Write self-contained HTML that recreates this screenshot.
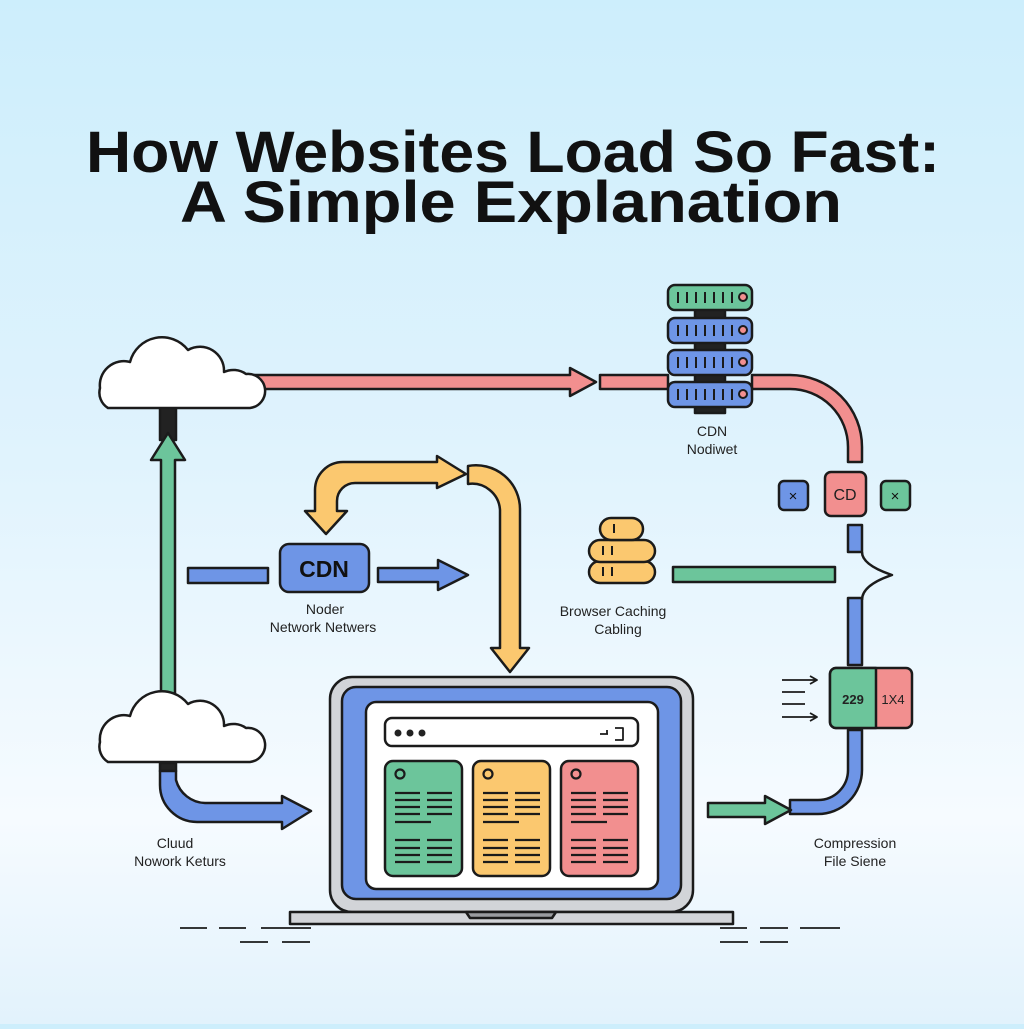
<!DOCTYPE html>
<html><head><meta charset="utf-8"><style>
html,body{margin:0;padding:0}
body{width:1024px;height:1024px;overflow:hidden;background:linear-gradient(#cdeefc 0%,#e0f3fd 45%,#f6fbff 80%,#e2f2fc 100%);font-family:"Liberation Sans",sans-serif}
</style></head><body>
<svg width="1024" height="1024" viewBox="0 0 1024 1024" xmlns="http://www.w3.org/2000/svg" font-family="Liberation Sans, sans-serif">
<g stroke="#1b1b1b" stroke-width="2.5" stroke-linejoin="round">
<text x="86" y="172" font-size="58" font-weight="bold" fill="#111" stroke="none" textLength="854" lengthAdjust="spacingAndGlyphs">How Websites Load So Fast:</text>
<text x="180" y="222" font-size="58" font-weight="bold" fill="#111" stroke="none" textLength="662" lengthAdjust="spacingAndGlyphs">A Simple Explanation</text>

<!-- red pipe -->
<path d="M250 375 H570 V368 L596 382 L570 396 V389 H250 Z" fill="#f28f8f"/>
<path d="M600 375 H668 V389 H600 Z" fill="#f28f8f"/>
<path d="M752 375 H790 A72 72 0 0 1 862 447 V462 H848 V447 A58 58 0 0 0 790 389 H752 Z" fill="#f28f8f"/>

<!-- server -->
<rect x="695" y="295" width="30" height="118" fill="#222"/>
<rect x="668" y="285" width="84" height="25" rx="7" fill="#6cc59b"/>
<rect x="668" y="318" width="84" height="25" rx="7" fill="#6e95e6"/>
<rect x="668" y="350" width="84" height="25" rx="7" fill="#6e95e6"/>
<rect x="668" y="382" width="84" height="25" rx="7" fill="#6e95e6"/>
<g stroke-width="2">
<path d="M678 292v11M687 292v11M696 292v11M705 292v11M714 292v11M723 292v11M732 292v11M678 325v11M687 325v11M696 325v11M705 325v11M714 325v11M723 325v11M732 325v11M678 357v11M687 357v11M696 357v11M705 357v11M714 357v11M723 357v11M732 357v11M678 389v11M687 389v11M696 389v11M705 389v11M714 389v11M723 389v11M732 389v11"/>
<circle cx="743" cy="297" r="4" fill="#f28f8f"/><circle cx="743" cy="330" r="4" fill="#f28f8f"/><circle cx="743" cy="362" r="4" fill="#f28f8f"/><circle cx="743" cy="394" r="4" fill="#f28f8f"/>
</g>
<text x="712" y="436" font-size="14" text-anchor="middle" fill="#222" stroke="none">CDN</text>
<text x="712" y="454" font-size="14" text-anchor="middle" fill="#222" stroke="none">Nodiwet</text>

<!-- small boxes -->
<rect x="779" y="481" width="29" height="29" rx="5" fill="#6e95e6"/>
<text x="793" y="501" font-size="15" text-anchor="middle" fill="#111" stroke="none">×</text>
<rect x="825" y="472" width="41" height="44" rx="6" fill="#f28f8f"/>
<text x="845" y="500" font-size="16" text-anchor="middle" fill="#222" stroke="none">CD</text>
<rect x="881" y="481" width="29" height="29" rx="5" fill="#6cc59b"/>
<text x="895" y="501" font-size="15" text-anchor="middle" fill="#111" stroke="none">×</text>

<!-- blue right pipe -->
<rect x="848" y="525" width="14" height="27" fill="#6e95e6"/>
<rect x="848" y="598" width="14" height="67" fill="#6e95e6"/>
<path d="M862 552 Q862 565 892 575 Q862 585 862 600" fill="none"/>
<path d="M848 730 V770 A30 30 0 0 1 818 800 H790 V814 H818 A44 44 0 0 0 862 770 V730 Z" fill="#6e95e6"/>
<rect x="673" y="567" width="162" height="15" fill="#6cc59b"/>

<!-- compression box -->
<rect x="830" y="668" width="82" height="60" rx="6" fill="#f28f8f"/>
<path d="M836 668 H876 V728 H836 A6 6 0 0 1 830 722 V674 A6 6 0 0 1 836 668 Z" fill="#6cc59b"/>
<text x="853" y="704" font-size="13" font-weight="bold" text-anchor="middle" fill="#222" stroke="none">229</text>
<text x="893" y="704" font-size="13" text-anchor="middle" fill="#222" stroke="none">1X4</text>
<g stroke-width="1.8" fill="none">
<path d="M782 680 H816 M810 676 L817 680 L810 684"/><path d="M782 692 H805"/><path d="M782 704 H805"/><path d="M782 717 H816 M810 713 L817 717 L810 721"/>
</g>
<path d="M708 803 H765 V796 L791 810 L765 824 V817 H708 Z" fill="#6cc59b"/>
<text x="855" y="848" font-size="14" text-anchor="middle" fill="#222" stroke="none">Compression</text>
<text x="855" y="866" font-size="14" text-anchor="middle" fill="#222" stroke="none">File Siene</text>

<!-- clouds -->
<rect x="160" y="405" width="16" height="35" fill="#222"/>
<path d="M161 700 V460 H151 L168 433 L185 460 H175 V700 Z" fill="#6cc59b"/>
<path d="M108 408 H250 A17 17 0 0 0 246 374 A22 22 0 0 0 224 372 A24 24 0 0 0 188 350 A33 33 0 0 0 130 362 A24 24 0 0 0 100 388 A18 18 0 0 0 108 408 Z" fill="#fff"/>
<path d="M108 762 H250 A17 17 0 0 0 246 728 A22 22 0 0 0 224 726 A24 24 0 0 0 188 704 A33 33 0 0 0 130 716 A24 24 0 0 0 100 742 A18 18 0 0 0 108 762 Z" fill="#fff"/>
<rect x="160" y="763" width="16" height="8" fill="#222"/>
<path d="M160 771 V785 A37 37 0 0 0 197 822 H282 V829 L311 811 L282 796 V803 H205 A31 31 0 0 1 176 780 V771 Z" fill="#6e95e6"/>
<text x="175" y="848" font-size="14" text-anchor="middle" fill="#222" stroke="none">Cluud</text>
<text x="180" y="866" font-size="14" text-anchor="middle" fill="#222" stroke="none">Nowork Keturs</text>

<!-- CDN -->
<rect x="188" y="568" width="80" height="15" fill="#6e95e6"/>
<rect x="280" y="544" width="89" height="48" rx="9" fill="#6e95e6"/>
<text x="324" y="577" font-size="23" font-weight="bold" text-anchor="middle" fill="#111" stroke="none">CDN</text>
<path d="M378 568 H438 V560 L468 575 L438 590 V582 H378 Z" fill="#6e95e6"/>
<text x="325" y="614" font-size="14" text-anchor="middle" fill="#222" stroke="none">Noder</text>
<text x="323" y="632" font-size="14" text-anchor="middle" fill="#222" stroke="none">Network Netwers</text>

<!-- yellow arrows -->
<path d="M315 511 V490 A28 28 0 0 1 343 462 H437 V456 L466 474 L437 488 V483 H355 A18 18 0 0 0 337 501 V511 H347 L326 534 L305 511 Z" fill="#fbc86f"/>
<path d="M468 466 A44 44 0 0 1 520 510 V648 H529 L510 672 L491 648 H500 V510 A28 28 0 0 0 468 484 Z" fill="#fbc86f"/>

<!-- coins -->
<rect x="589" y="561" width="66" height="22" rx="11" fill="#fbc86f"/>
<rect x="589" y="540" width="66" height="22" rx="11" fill="#fbc86f"/>
<rect x="600" y="518" width="43" height="22" rx="11" fill="#fbc86f"/>
<path d="M614 524v9M603 546v9M612 546v9M603 567v9M612 567v9" stroke-width="2"/>
<text x="613" y="616" font-size="14" text-anchor="middle" fill="#222" stroke="none">Browser Caching</text>
<text x="618" y="634" font-size="14" text-anchor="middle" fill="#222" stroke="none">Cabling</text>

<!-- laptop -->
<rect x="330" y="677" width="363" height="235" rx="22" fill="#d2d4d8"/>
<rect x="342" y="687" width="339" height="212" rx="14" fill="#6e95e6"/>
<rect x="366" y="702" width="292" height="187" rx="10" fill="#fff"/>
<rect x="385" y="718" width="253" height="28" rx="7" fill="#fff"/>
<circle cx="398" cy="733" r="3.5" fill="#222" stroke="none"/><circle cx="410" cy="733" r="3.5" fill="#222" stroke="none"/><circle cx="422" cy="733" r="3.5" fill="#222" stroke="none"/>
<path d="M600 734h8M615 728h8v12h-8M607 730v4" stroke-width="1.8" fill="none"/>
<rect x="385" y="761" width="77" height="115" rx="8" fill="#6cc59b"/>
<rect x="473" y="761" width="77" height="115" rx="8" fill="#fbc86f"/>
<rect x="561" y="761" width="77" height="115" rx="8" fill="#f28f8f"/>
<g fill="none" stroke-width="2.2">
<circle cx="400" cy="774" r="4.5"/><circle cx="488" cy="774" r="4.5"/><circle cx="576" cy="774" r="4.5"/>
<path id="ln" d="M395 793h25M427 793h25M395 800h25M427 800h25M395 807h25M427 807h25M395 814h25M427 814h25M395 822h36M395 840h25M427 840h25M395 848h25M427 848h25M395 855h25M427 855h25M395 862h25M427 862h25"/>
<use href="#ln" x="88"/><use href="#ln" x="176"/>
</g>
<path d="M290 912 H733 V924 H290 Z" fill="#d2d4d8"/>
<path d="M466 912 H556 L552 918 H470 Z" fill="#9a9ca0"/>
<g stroke-width="1.8">
<path d="M180 928h27M219 928h27M261 928h50M240 942h28M282 942h28"/>
<path d="M720 928h27M760 928h28M800 928h40M720 942h28M760 942h28"/>
</g>
</g>
</svg>
</body></html>
